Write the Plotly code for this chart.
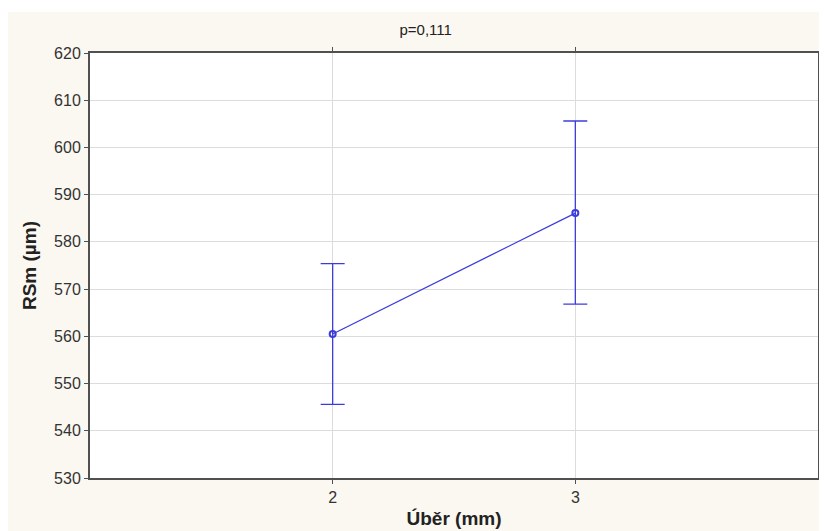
import plotly.graph_objects as go

uber = [2, 3]
rsm_mean = [560.5, 586.1]
rsm_upper = [575.4, 605.6]
rsm_lower = [545.6, 566.8]

err_plus = [u - m for u, m in zip(rsm_upper, rsm_mean)]
err_minus = [m - l for m, l in zip(rsm_mean, rsm_lower)]

line_col = '#3c3cdc'
cream = '#fbf8f1'
font_fam = 'Liberation Sans, Arial'

fig = go.Figure()

fig.add_trace(go.Scatter(
    x=uber,
    y=rsm_mean,
    mode='lines+markers',
    line=dict(color=line_col, width=1.3),
    marker=dict(symbol='circle-open', size=6, color=line_col, line=dict(width=2, color=line_col)),
    error_y=dict(type='data', symmetric=False, array=err_plus, arrayminus=err_minus,
                 color=line_col, thickness=1.3, width=12),
    showlegend=False
))

axis_common = dict(
    showline=True, linecolor='#505050', linewidth=2, mirror='ticks',
    showgrid=True, gridcolor='#dcdcdc', gridwidth=1,
    ticks='outside', ticklen=4, tickcolor='#505050',
    tickfont=dict(family=font_fam, size=16, color='#333333'),
    zeroline=False,
)

fig.update_xaxes(
    range=[1, 4], tickvals=[2, 3], ticktext=['2', '3'],
    title=dict(text='<b>Úběr (mm)</b>', standoff=6,
               font=dict(family=font_fam, size=19, color='#222222')),
    **axis_common
)
fig.update_yaxes(
    range=[530, 620], dtick=10,
    title=dict(text='<b>RSm (µm)</b>', standoff=12,
               font=dict(family=font_fam, size=19, color='#222222')),
    **axis_common
)

fig.update_layout(
    width=819, height=523,
    margin=dict(l=82, r=3, t=45, b=53),
    paper_bgcolor=cream,
    plot_bgcolor='white',
    title=dict(text='p=0,111', x=0.51, xref='container', xanchor='center',
               y=0.958, yref='container', yanchor='middle',
               font=dict(family=font_fam, size=15, color='#222222')),
    shapes=[
        dict(type='rect', xref='paper', yref='paper', x0=-0.13, x1=1.02, y0=1.0965, y1=1.12,
             fillcolor='white', line=dict(width=0), layer='above'),
    ],
)

fig.write_html('out.html')
